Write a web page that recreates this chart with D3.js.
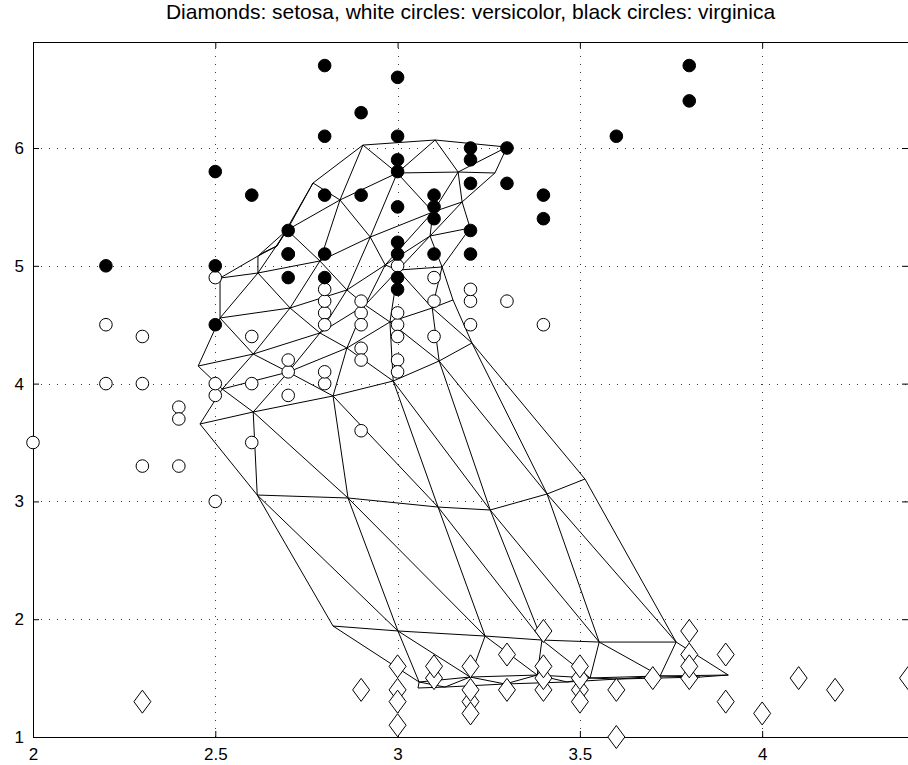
<!DOCTYPE html>
<html>
<head>
<meta charset="utf-8">
<script src="https://cdn.jsdelivr.net/npm/d3@7"></script>
<style>
  body { margin: 0; background: #fff; }
  text { font-family: "Liberation Sans", Arial, Helvetica, sans-serif; fill: #000; }
</style>
</head>
<body>
<svg id="chart" width="908" height="765"></svg>
<script>
// Axis ticks
const xTicks = [2, 2.5, 3, 3.5, 4];
const yTicks = [1, 2, 3, 4, 5, 6];
const xDomain = [2, 4.4];
const yDomain = [1, 6.9];
const titleText = "Diamonds: setosa, white circles: versicolor, black circles: virginica";

// Iris samples: [sepal width, petal length]
const setosa = [
  [3.5,1.4],[3.0,1.4],[3.2,1.3],[3.1,1.5],[3.6,1.4],[3.9,1.7],[3.4,1.4],[3.4,1.5],
  [2.9,1.4],[3.7,1.5],[3.4,1.6],[3.0,1.1],[4.0,1.2],[4.4,1.5],[3.9,1.3],[3.8,1.7],
  [3.8,1.5],[3.6,1.0],[3.3,1.7],[3.4,1.9],[3.0,1.6],[3.5,1.5],[3.2,1.6],[3.1,1.6],
  [4.1,1.5],[4.2,1.4],[3.2,1.2],[3.5,1.3],[3.0,1.3],[2.3,1.3],[3.5,1.6],[3.8,1.9],
  [3.8,1.6],[3.2,1.4],[3.3,1.4]
];
const versicolor = [
  [3.2,4.7],[3.2,4.5],[3.1,4.9],[2.3,4.0],[2.8,4.6],[2.8,4.5],[3.3,4.7],[2.4,3.3],
  [2.9,4.6],[2.7,3.9],[2.0,3.5],[3.0,4.2],[2.2,4.0],[2.9,4.7],[2.9,3.6],[3.1,4.4],
  [3.0,4.5],[2.7,4.1],[2.2,4.5],[2.5,3.9],[3.2,4.8],[2.8,4.0],[2.5,4.9],[2.8,4.7],
  [2.9,4.3],[3.0,4.4],[2.8,4.8],[3.0,5.0],[2.9,4.5],[2.6,3.5],[2.4,3.8],[2.4,3.7],
  [2.7,5.1],[3.4,4.5],[3.1,4.7],[2.3,4.4],[3.0,4.1],[2.5,4.0],[2.6,4.4],[3.0,4.6],
  [2.6,4.0],[2.3,3.3],[2.7,4.2],[2.9,4.2],[2.5,3.0],[2.8,4.1]
];
const virginica = [
  [3.3,6.0],[2.7,5.1],[3.0,5.9],[2.9,5.6],[3.0,5.8],[3.0,6.6],[2.5,4.5],[2.9,6.3],
  [2.5,5.8],[3.6,6.1],[3.2,5.1],[2.7,5.3],[3.0,5.5],[2.5,5.0],[2.8,5.1],[3.2,5.3],
  [3.8,6.7],[2.2,5.0],[3.2,5.7],[2.8,4.9],[2.8,6.7],[2.7,4.9],[3.3,5.7],[3.2,6.0],
  [3.0,4.9],[2.8,5.6],[2.8,6.1],[3.8,6.4],[2.6,5.6],[3.0,6.1],[3.4,5.6],[3.1,5.5],
  [3.0,4.8],[3.1,5.4],[3.1,5.6],[3.1,5.1],[3.2,5.9],[3.0,5.2],[3.4,5.4],[3.0,5.1]
];

// SOM prototypes projected on (sepal width, petal length):
// one array per hexagonal lattice row, bottom row first, 6 units per row.
// Odd rows are shifted half a unit to the right.
const somRow0  = [[3.056,1.416],[3.130,1.424],[3.295,1.450],[3.465,1.467],[3.602,1.492],[3.830,1.509]];
const somRow1  = [[3.059,1.467],[3.199,1.509],[3.383,1.526],[3.528,1.501],[3.720,1.518],[3.907,1.526]];
const somRow2  = [[2.823,1.942],[3.001,1.900],[3.240,1.857],[3.396,1.823],[3.553,1.806],[3.764,1.806]];
const somRow3  = [[2.615,3.054],[2.864,3.029],[3.111,2.952],[3.254,2.927],[3.410,3.063],[3.514,3.190]];
const somRow4  = [[2.458,3.657],[2.604,3.759],[2.823,3.895],[2.988,4.022],[3.114,4.192],[3.204,4.345]];
const somRow5  = [[2.519,3.954],[2.700,4.098],[2.861,4.302],[2.979,4.523],[3.095,4.642],[3.152,4.710]];
const somRow6  = [[2.453,4.149],[2.604,4.251],[2.787,4.430],[2.911,4.667],[3.001,4.964],[3.122,4.990]];
const somRow7  = [[2.513,4.557],[2.705,4.642],[2.861,4.795],[2.966,5.007],[3.089,5.253],[3.199,5.321]];
const somRow8  = [[2.513,4.896],[2.617,4.939],[2.787,5.041],[2.925,5.244],[3.097,5.457],[3.177,5.542]];
const somRow9  = [[2.617,5.083],[2.697,5.304],[2.842,5.559],[2.999,5.788],[3.166,5.796],[3.267,5.788]];
const somRow10 = [[2.634,5.117],[2.669,5.168],[2.768,5.703],[2.905,6.025],[3.103,6.068],[3.300,6.008]];
const somRows = [somRow0, somRow1, somRow2, somRow3, somRow4, somRow5, somRow6, somRow7, somRow8, somRow9, somRow10];

const svg = d3.select("#chart");
const margin = { left: 33, right: 0, top: 42, bottom: 28 };
const W = 908, H = 765;
const x = d3.scaleLinear().domain(xDomain).range([margin.left, W - margin.right]);
const y = d3.scaleLinear().domain(yDomain).range([H - margin.bottom, margin.top]);
const x0 = x.range()[0], x1 = x.range()[1], y0 = y.range()[0], y1 = y.range()[1];

// Dotted grid
const grid = svg.append("g").attr("stroke", "#3a3a3a").attr("stroke-width", 1)
  .attr("stroke-dasharray", "1,7").attr("fill", "none");
grid.selectAll("line.gx").data(xTicks.filter(t => t > xDomain[0])).join("line")
  .attr("x1", d => Math.round(x(d)) + 0.5).attr("x2", d => Math.round(x(d)) + 0.5)
  .attr("y1", y0).attr("y2", y1);
grid.selectAll("line.gy").data(yTicks.filter(t => t > yDomain[0])).join("line")
  .attr("y1", d => Math.round(y(d)) + 0.5).attr("y2", d => Math.round(y(d)) + 0.5)
  .attr("x1", x0).attr("x2", x1);

// Axes with inward ticks on all four sides
const tickLen = 6;
const xAxisB = d3.axisBottom(x).tickValues(xTicks).tickSize(-tickLen).tickPadding(tickLen + 5)
  .tickFormat(d3.format("~g"));
const xAxisT = d3.axisTop(x).tickValues(xTicks).tickSize(-tickLen).tickFormat("");
const yAxisL = d3.axisLeft(y).tickValues(yTicks).tickSize(-tickLen).tickPadding(tickLen + 3)
  .tickFormat(d3.format("~g"));
const yAxisR = d3.axisRight(y).tickValues(yTicks).tickSize(-tickLen).tickFormat("");

function styleAxis(g) {
  g.select(".domain").remove();
  g.selectAll(".tick line").attr("stroke", "#000");
  g.selectAll(".tick text").attr("font-size", 17).attr("font-family", "Liberation Sans, Arial, sans-serif");
}
svg.append("g").attr("transform", `translate(0,${y0})`).call(xAxisB).call(styleAxis);
svg.append("g").attr("transform", `translate(0,${y1})`).call(xAxisT).call(styleAxis);
svg.append("g").attr("transform", `translate(${x0},0)`).call(yAxisL).call(styleAxis);
svg.append("g").attr("transform", `translate(${x1},0)`).call(yAxisR).call(styleAxis);

// Frame
svg.append("rect").attr("x", x0 + 0.5).attr("y", y1 + 0.5)
  .attr("width", x1 - x0).attr("height", y0 - y1)
  .attr("fill", "none").attr("stroke", "#000").attr("stroke-width", 1);

// SOM lattice edges (hexagonal neighbourhood)
const edges = [];
somRows.forEach((row, r) => {
  row.forEach((p, i) => {
    if (i + 1 < row.length) edges.push([p, row[i + 1]]);
    const up = somRows[r + 1];
    if (up) {
      const nb = (r % 2 === 1) ? [i, i + 1] : [i - 1, i];
      nb.forEach(j => { if (j >= 0 && j < up.length) edges.push([p, up[j]]); });
    }
  });
});
svg.append("g").selectAll("line").data(edges).join("line")
  .attr("x1", d => x(d[0][0])).attr("y1", d => y(d[0][1]))
  .attr("x2", d => x(d[1][0])).attr("y2", d => y(d[1][1]))
  .attr("stroke", "#000").attr("stroke-width", 1);

// Markers
const dw = 8.5, dh = 11.5;
svg.append("g").selectAll("path").data(setosa).join("path")
  .attr("d", d => {
    const cx = x(d[0]), cy = y(d[1]);
    return `M${cx},${cy - dh}L${cx + dw},${cy}L${cx},${cy + dh}L${cx - dw},${cy}Z`;
  })
  .attr("fill", "#fff").attr("stroke", "#000").attr("stroke-width", 1);
svg.append("g").selectAll("circle").data(versicolor).join("circle")
  .attr("cx", d => x(d[0])).attr("cy", d => y(d[1])).attr("r", 6.3)
  .attr("fill", "#fff").attr("stroke", "#000").attr("stroke-width", 1);
svg.append("g").selectAll("circle").data(virginica).join("circle")
  .attr("cx", d => x(d[0])).attr("cy", d => y(d[1])).attr("r", 6.3)
  .attr("fill", "#000").attr("stroke", "#000").attr("stroke-width", 1);

// Title
svg.append("text").attr("x", (x0 + x1) / 2).attr("y", 19)
  .attr("text-anchor", "middle").attr("font-size", 21).text(titleText);
</script>
</body>
</html>
